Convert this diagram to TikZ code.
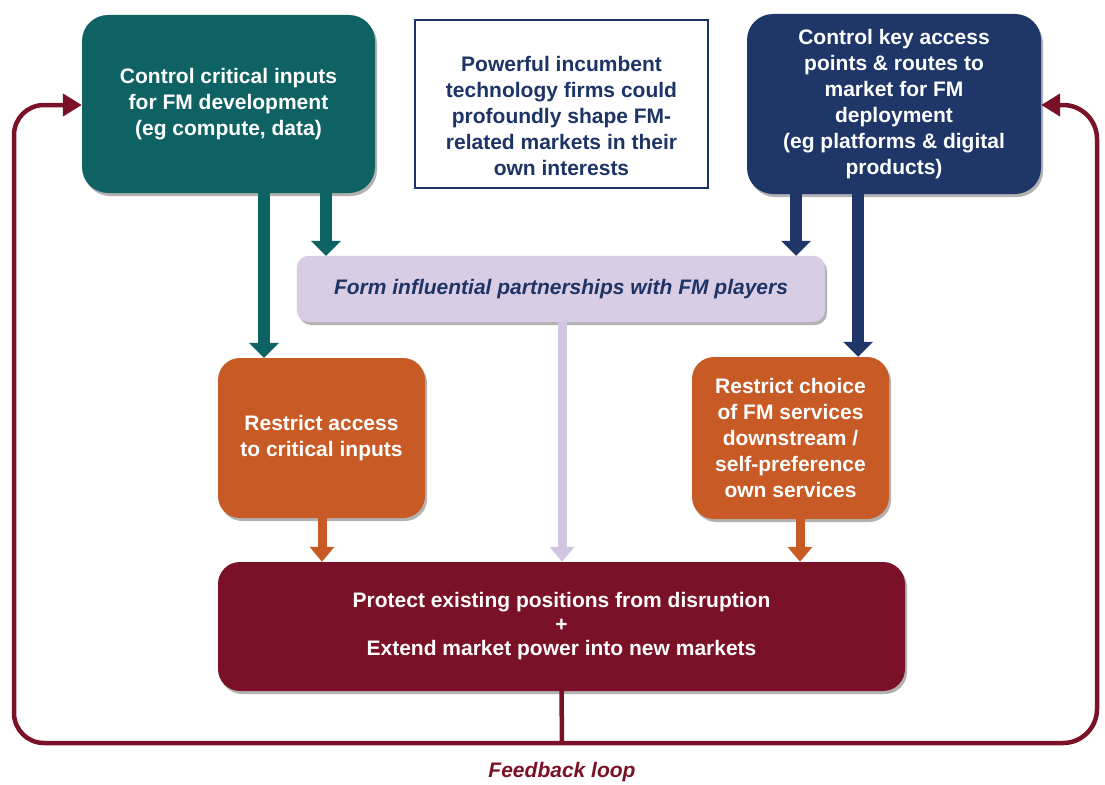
\documentclass[tikz,border=0pt]{standalone}
\usepackage{fontspec}
\setmainfont{Liberation Sans}
\usetikzlibrary{arrows.meta,shadows}

\definecolor{tealbox}{HTML}{0F6263}
\definecolor{navybox}{HTML}{1F3668}
\definecolor{orangebox}{HTML}{C85A26}
\definecolor{maroonbox}{HTML}{7A1127}
\definecolor{lavbox}{HTML}{D9CDE6}
\definecolor{lavline}{HTML}{D2C5E2}
\definecolor{navytext}{HTML}{1D3466}

\tikzset{
  shade/.style={drop shadow={shadow xshift=2pt,shadow yshift=-3pt,opacity=0.3,fill=black}},
  card/.style={shade,align=center,text=white,inner sep=4pt,
    font=\bfseries\fontsize{21}{26}\selectfont},
  flowarrow/.style={line width=12pt},
  smallarrow/.style={line width=9pt},
  fbline/.style={draw=maroonbox,line width=4.5pt},
  fbtip/.style={-{Triangle[width=22pt,length=19pt]}}
}

\begin{document}
\begin{tikzpicture}[x=1pt,y=-1pt]
\useasboundingbox (0,0) rectangle (1105,784);

% top row
\node[card,fill=tealbox,rounded corners=26pt,minimum width=293pt,minimum height=178pt]
  (inputs) at (228.5,104) {Control critical inputs\\for FM development\\(eg compute, data)};
\node[draw=navytext,line width=1.3pt,fill=white,minimum width=293pt,minimum height=168pt]
  (claim) at (561.5,104) {};
\node[align=center,text=navytext,font=\bfseries\fontsize{21}{26}\selectfont]
  (claimtext) at (561.5,116) {Powerful incumbent\\technology firms could\\profoundly shape FM-\\related markets in their\\own interests};
\node[card,fill=navybox,rounded corners=26pt,minimum width=294pt,minimum height=180pt]
  (access) at (894,104) {Control key access\\points \& routes to\\market for FM\\deployment\\(eg platforms \& digital\\products)};

% partnerships bar
\node[shade,fill=lavbox,draw=lavline,rounded corners=12pt,minimum width=528pt,minimum height=66pt,
  text=navytext,font=\bfseries\itshape\fontsize{21}{24}\selectfont]
  (partner) at (561,289) {Form influential partnerships with FM players};

% restriction boxes
\node[card,fill=orangebox,rounded corners=22pt,minimum width=207pt,minimum height=160pt]
  (restrictL) at (321.5,438) {Restrict access\\to critical inputs};
\node[card,fill=orangebox,rounded corners=22pt,minimum width=197pt,minimum height=162pt]
  (restrictR) at (790.5,438) {Restrict choice\\of FM services\\downstream /\\self-preference\\own services};

% outcome box
\node[card,fill=maroonbox,rounded corners=22pt,minimum width=687pt,minimum height=129pt,
  font=\bfseries\fontsize{21}{24}\selectfont]
  (outcome) at (561.5,626.5) {Protect existing positions from disruption\\+\\Extend market power into new markets};

% arrow columns
\coordinate (cA) at (264,0);
\coordinate (cB) at (326,0);
\coordinate (cC) at (796,0);
\coordinate (cD) at (858,0);
\coordinate (cE) at (322,0);
\coordinate (cF) at (800,0);
\coordinate (cG) at (562,0);

\draw[flowarrow,draw=tealbox,-{Triangle[width=29pt,length=15pt,fill=tealbox]}]
  (inputs.south -| cA) -- (restrictL.north -| cA);
\draw[flowarrow,draw=tealbox,-{Triangle[width=29pt,length=15pt,fill=tealbox]}]
  (inputs.south -| cB) -- (partner.north -| cB);
\draw[flowarrow,draw=navybox,-{Triangle[width=29pt,length=15pt,fill=navybox]}]
  (access.south -| cC) -- (partner.north -| cC);
\draw[flowarrow,draw=navybox,-{Triangle[width=29pt,length=15pt,fill=navybox]}]
  (access.south -| cD) -- (restrictR.north -| cD);
\draw[smallarrow,draw=orangebox,-{Triangle[width=24pt,length=15pt,fill=orangebox]}]
  (restrictL.south -| cE) -- (outcome.north -| cE);
\draw[smallarrow,draw=orangebox,-{Triangle[width=24pt,length=15pt,fill=orangebox]}]
  (restrictR.south -| cF) -- (outcome.north -| cF);
\draw[smallarrow,draw=lavline,-{Triangle[width=24pt,length=15pt,fill=lavline]}]
  (partner.south -| cG) -- (outcome.north -| cG);

% feedback loop
\coordinate (fbBase) at (562,743);
\coordinate (fbLeft) at (14,105);
\coordinate (fbRight) at (1097,105);
\draw[fbline] (outcome.south) -- (fbBase);
\draw[fbline,fbtip,rounded corners=30pt]
  (fbBase) -| (fbLeft) -- (inputs.west |- fbLeft);
\draw[fbline,fbtip,rounded corners=34pt]
  (fbBase) -| (fbRight) -- (access.east |- fbRight);

\node[text=maroonbox,font=\bfseries\itshape\fontsize{21}{24}\selectfont]
  (fblabel) at (562,772) {Feedback loop};
\end{tikzpicture}
\end{document}
